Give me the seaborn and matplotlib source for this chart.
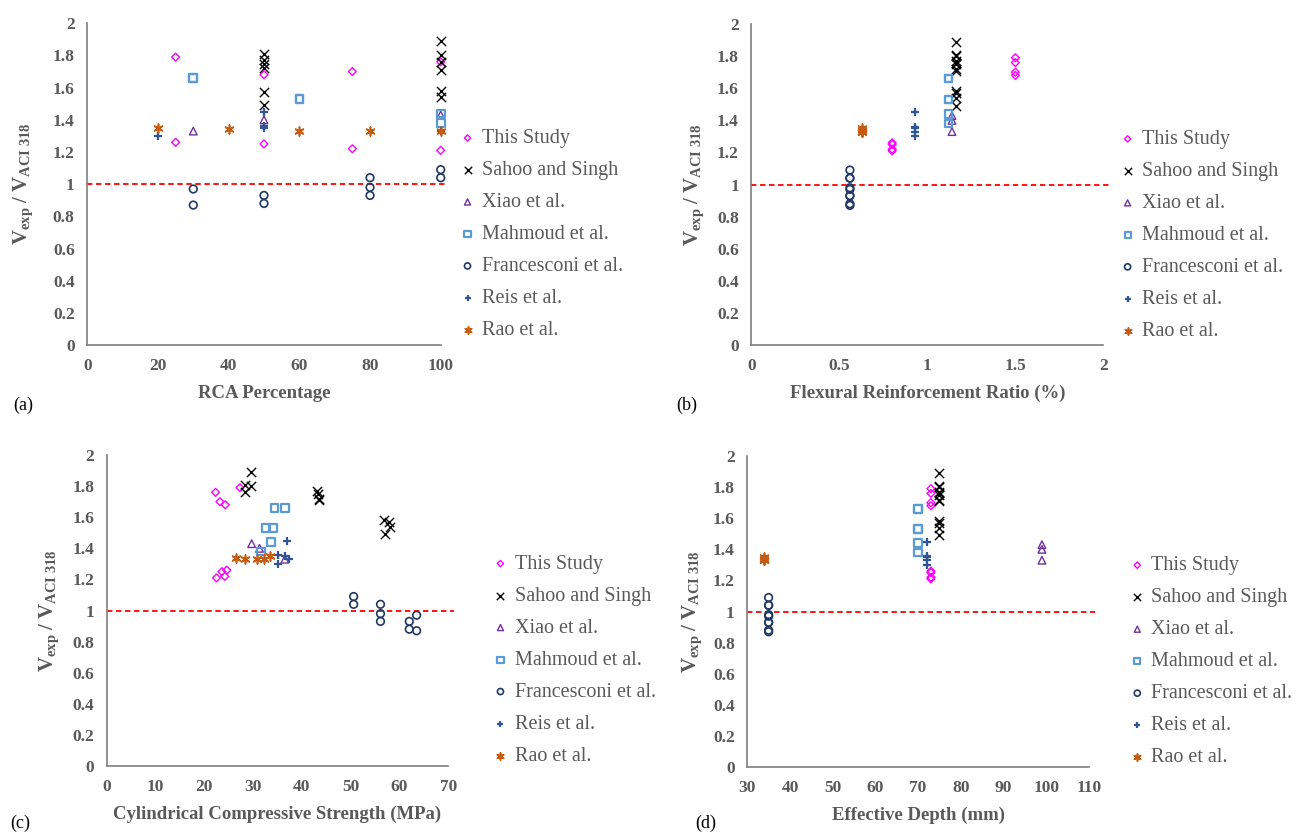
import numpy as np
import pandas as pd
import seaborn as sns
import matplotlib.pyplot as plt
from matplotlib.ticker import FuncFormatter, MultipleLocator

# ---- data ----
studies = ["This Study", "Sahoo and Singh", "Xiao et al.", "Mahmoud et al.",
           "Francesconi et al.", "Reis et al.", "Rao et al."]

# This Study
ts_ratio = [1.79, 1.26, 1.68, 1.25, 1.70, 1.22, 1.76, 1.21]
ts_rca = [25, 25, 50, 50, 75, 75, 100, 100]
ts_rho = [1.5, 0.8, 1.5, 0.8, 1.5, 0.8, 1.5, 0.8]
ts_fc = [27.3, 24.6, 24.3, 23.6, 23.2, 24.2, 22.3, 22.5]
ts_d = [73] * 8

# Sahoo and Singh
ss_ratio = [1.89, 1.81, 1.80, 1.76, 1.77, 1.75, 1.72, 1.71, 1.58, 1.57, 1.54, 1.49]
ss_rca = [100, 50, 100, 100, 50, 50, 50, 100, 100, 50, 100, 50]
ss_rho = [1.16] * 12
ss_fc = [29.5, 28.4, 29.5, 28.4, 43.0, 43.3, 43.4, 43.6, 56.8, 57.9, 58.1, 57.0]
ss_d = [75] * 12

# Xiao et al.
xi_ratio = [1.33, 1.40, 1.43]
xi_rca = [30, 50, 100]
xi_rho = [1.14, 1.14, 1.14]
xi_fc = [36.5, 31.3, 29.7]
xi_d = [99, 99, 99]

# Mahmoud et al.
ma_ratio = [1.66, 1.66, 1.53, 1.53, 1.44, 1.38]
ma_rca = [30, 30, 60, 60, 100, 100]
ma_rho = [1.12] * 6
ma_fc = [34.4, 36.5, 32.6, 34.1, 33.7, 31.6]
ma_d = [70] * 6

# Francesconi et al.
fr_ratio = [0.97, 0.87, 0.93, 0.88, 1.04, 0.98, 0.93, 1.09, 1.04]
fr_rca = [30, 30, 50, 50, 80, 80, 80, 100, 100]
fr_rho = [0.56] * 9
fr_fc = [63.5, 63.5, 62.0, 62.0, 56.1, 56.1, 56.1, 50.6, 50.6]
fr_d = [35] * 9

# Reis et al.
re_ratio = [1.30, 1.45, 1.36, 1.35, 1.33]
re_rca = [20, 50, 50, 50, 100]
re_rho = [0.93] * 5
re_fc = [35.2, 37.0, 35.2, 36.6, 37.3]
re_d = [72] * 5

# Rao et al.
ra_ratio = [1.35, 1.34, 1.33, 1.33, 1.33]
ra_rca = [20, 40, 60, 80, 100]
ra_rho = [0.63] * 5
ra_fc = [33.5, 26.5, 28.4, 30.7, 32.2]
ra_d = [34] * 5

frames = []
for name, r, a, p, f, d in [
    (studies[0], ts_ratio, ts_rca, ts_rho, ts_fc, ts_d),
    (studies[1], ss_ratio, ss_rca, ss_rho, ss_fc, ss_d),
    (studies[2], xi_ratio, xi_rca, xi_rho, xi_fc, xi_d),
    (studies[3], ma_ratio, ma_rca, ma_rho, ma_fc, ma_d),
    (studies[4], fr_ratio, fr_rca, fr_rho, fr_fc, fr_d),
    (studies[5], re_ratio, re_rca, re_rho, re_fc, re_d),
    (studies[6], ra_ratio, ra_rca, ra_rho, ra_fc, ra_d),
]:
    frames.append(pd.DataFrame({"study": name, "ratio": r, "rca": a,
                                "rho": p, "fc": f, "d": d}))
df = pd.concat(frames, ignore_index=True)

# marker styles per study
colors = ["#FF00FF", "#000000", "#7030A0", "#5B9BD5", "#1F3864", "#2F5597", "#C55A11"]
markers = ["D", "x", "^", "s", "o", "+", (6, 2, 0)]
sizes = [16, 44, 30, 30, 30, 36, 40]
lws = [1.0, 1.0, 1.0, 1.6, 1.2, 1.6, 1.2]
filled = [True, False, True, True, True, False, False]

# ---- style ----
sns.set_theme(style="white")
plt.rcParams["font.family"] = ["Liberation Serif", "DejaVu Serif"]
plt.rcParams["mathtext.fontset"] = "custom"
plt.rcParams["mathtext.rm"] = "Liberation Serif"
plt.rcParams["mathtext.bf"] = "Liberation Serif:bold"
plt.rcParams["mathtext.it"] = "Liberation Serif:italic"
gray = "#595959"

fig = plt.figure(figsize=(13.14, 8.32), dpi=100)

panels = [
    # column, xlabel, xlim, xstep, axes rect, legend anchor, tag, tag pos, ylabel pad
    ("rca", "RCA Percentage", (0, 100), 20,
     [0.0664, 0.5853, 0.2690, 0.3867], (1.053, 0.343), "(a)", (0.010, 0.503), 13),
    ("rho", "Flexural Reinforcement Ratio (%)", (0, 2), 0.5,
     [0.5718, 0.5853, 0.2679, 0.3858], (1.046, 0.341), "(b)", (0.515, 0.503), 8),
    ("fc", "Cylindrical Compressive Strength (MPa)", (0, 70), 10,
     [0.0812, 0.0793, 0.2600, 0.3738], (1.129, 0.340), "(c)", (0.008, 0.000), 8),
    ("d", "Effective Depth (mm)", (30, 110), 10,
     [0.5687, 0.0781, 0.2600, 0.3738], (1.118, 0.338), "(d)", (0.529, 0.000), 6),
]

fmt = FuncFormatter(lambda v, pos: f"{v:g}")

for col, xlabel, xlim, xstep, rect, leg_anchor, tag, tag_pos, ypad in panels:
    ax = fig.add_axes(rect)
    for i, name in enumerate(studies):
        sub = df[df["study"] == name]
        kw = dict(marker=markers[i], color=colors[i], s=sizes[i],
                  linewidth=lws[i], label=name, ax=ax, zorder=3, clip_on=False)
        if filled[i]:
            kw["facecolor"] = "none"
            kw["edgecolor"] = colors[i]
        sns.scatterplot(data=sub, x=col, y="ratio", **kw)

    # reference line at ratio = 1
    ax.plot([0, 1.018], [1, 1], color="#FF0000", linestyle=(0, (3, 2)),
            linewidth=1.3, transform=ax.get_yaxis_transform(),
            clip_on=False, zorder=2)

    ax.set_xlim(*xlim)
    ax.set_ylim(0, 2)
    ax.xaxis.set_major_locator(MultipleLocator(xstep))
    ax.yaxis.set_major_locator(MultipleLocator(0.2))
    ax.xaxis.set_major_formatter(fmt)
    ax.yaxis.set_major_formatter(fmt)
    for side in ["top", "right"]:
        ax.spines[side].set_visible(False)
    for side in ["left", "bottom"]:
        ax.spines[side].set_color("#7F7F7F")
        ax.spines[side].set_linewidth(1.2)
    ax.tick_params(axis="both", direction="inout", length=6, width=1,
                   color="#7F7F7F", labelsize=12.5, labelcolor=gray, pad=6)
    for lab in ax.get_xticklabels() + ax.get_yticklabels():
        lab.set_fontweight("bold")

    ax.set_xlabel(xlabel, fontsize=13.5, fontweight="bold", color=gray, labelpad=8)
    ax.set_ylabel(r"$\mathbf{V}_{\mathbf{exp}}\ \mathbf{/\ V}_{\mathbf{ACI\ 318}}$",
                  fontsize=15, color=gray, labelpad=ypad)

    ax.legend(loc="center left", bbox_to_anchor=leg_anchor, frameon=False,
              fontsize=14.5, labelcolor=gray, handlelength=0.8, handletextpad=0.3,
              borderaxespad=0, borderpad=0, labelspacing=0.64, markerscale=0.8)

    fig.text(tag_pos[0], tag_pos[1], tag, fontsize=13, color="black",
             ha="left", va="bottom")

fig.savefig("out.png", dpi=100)
